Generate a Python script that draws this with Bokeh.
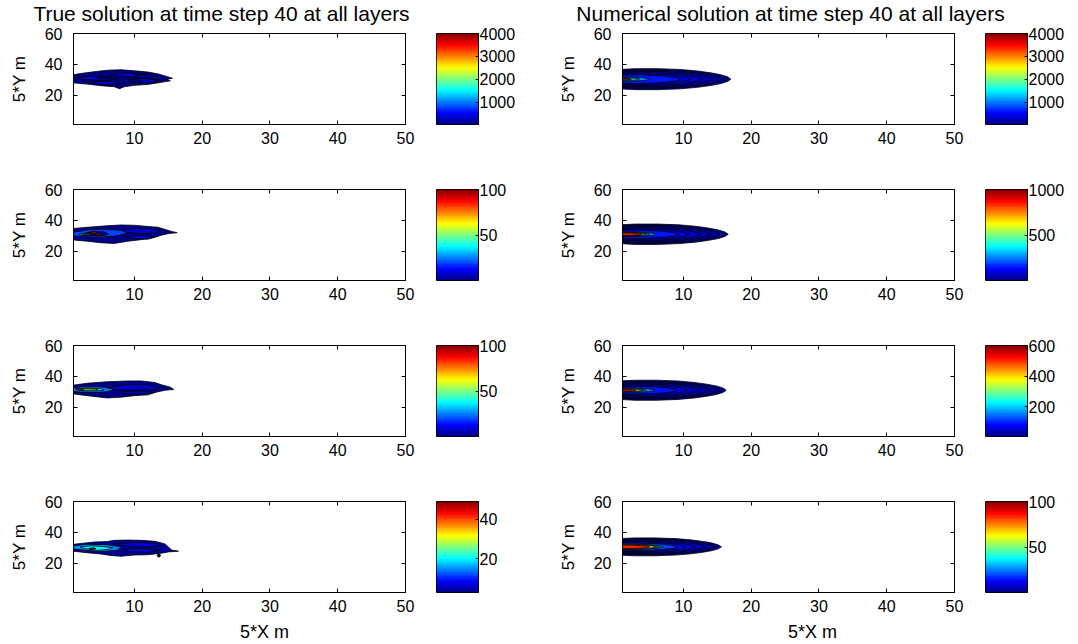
import numpy as np
from bokeh.plotting import figure
from bokeh.layouts import row, column
from bokeh.models import LinearAxis, FixedTicker, LinearColorMapper
from bokeh.core.properties import value
from bokeh.embed import file_html
from bokeh.resources import INLINE

FONT = "Liberation Sans"

TITLES = ["True solution at time step 40 at all layers",
          "Numerical solution at time step 40 at all layers"]
X_LABEL = "5*X m"
Y_LABEL = "5*Y m"
X_TICKS = [10, 20, 30, 40, 50]
Y_TICKS = [20, 40, 60]
X_LIMITS = (1, 50)
Y_LIMITS = (1, 60)

# colour limits and colorbar ticks, one entry per layer
TRUE_CLIM_LOW = [20, 1, 1, 3]
TRUE_CLIM_HIGH = [4000, 100, 100, 49]
TRUE_CBAR_TICKS = [[1000, 2000, 3000, 4000], [50, 100], [50, 100], [20, 40]]
NUM_CLIM_LOW = [20, 5, 5, 1]
NUM_CLIM_HIGH = [4000, 1000, 600, 100]
NUM_CBAR_TICKS = [[1000, 2000, 3000, 4000], [500, 1000], [200, 400, 600], [50, 100]]

# True solution: filled contour regions (value, xs, ys)
TRUE_L1 = [
    (40, [0.5, 2, 4, 6, 8, 10, 12, 13.5, 14.5, 15.6, 14.8, 15.3, 13.5, 12, 10, 8.5, 7.8, 7, 5, 3, 0.5],
         [33, 34, 35.2, 36.2, 36.5, 35.8, 35, 33.8, 32.5, 31, 30.3, 29.3, 28, 27, 26.4, 25.5, 24.2, 25.5, 26.2, 27.2, 28.2]),
    (350, [1.5, 3.5, 6, 7.5, 6, 4, 2], [31.2, 32.3, 32, 30.6, 29.6, 29.8, 30.4]),
    (350, [6.5, 8.5, 10.5, 12.5, 13.5, 11.5, 9, 7.5], [33.2, 34.4, 34.2, 33.3, 32, 31.6, 32.2, 32.5]),
    (350, [8, 10, 12, 14, 12.5, 10.5, 8.5], [30.3, 30.9, 30.5, 29.5, 28.4, 28.2, 29]),
    (350, [3, 5, 7, 8, 6, 4], [28.6, 29.1, 28.6, 27.4, 26.8, 27.4]),
    (600, [4.5, 5.8, 6.5, 5.2], [31.3, 31.6, 30.9, 30.6]),
    (600, [10, 11.2, 11.8, 10.5], [33.4, 33.6, 33, 32.7]),
    (600, [9, 10.5, 11, 9.6], [29.9, 30.1, 29.4, 29.2]),
]
TRUE_L2 = [
    (2, [0.5, 3, 6, 8, 10, 12, 13.5, 14.2, 15.5, 16.3, 15, 14, 13, 11, 9, 7, 5, 3, 0.5],
        [34.5, 35.5, 36.5, 37, 36.8, 36, 35.5, 34.5, 32.8, 32, 31.4, 30.4, 29, 27.5, 26.5, 25, 25.5, 26.5, 27.5]),
    (9, [7.5, 10, 12.5, 14, 13, 11, 9], [33.2, 34.8, 34.6, 33, 31.8, 31.5, 32]),
    (9, [8.5, 11, 13, 12, 9.5], [29.6, 30.2, 29.2, 27.8, 28.3]),
    (20, [0.5, 3, 5.5, 8, 9, 7.5, 5, 2.5, 0.5], [32, 33.8, 34.3, 33.5, 31.8, 30, 29, 29.3, 30]),
    (2, [2.3, 3.8, 5.5, 6.2, 5, 3.3, 2.3], [31.2, 32.8, 32.6, 31, 29.8, 30, 30.4]),
    (50, [1.8, 3.5, 3.6, 1.9], [31.1, 31.3, 30.7, 30.5]),
    (88, [3.2, 4.1, 4.6, 3.9], [32, 32.6, 32.1, 31.5]),
    (88, [4, 4.8, 5.3, 4.6], [30.8, 31.2, 30.6, 30.2]),
]
TRUE_L3 = [
    (2, [0.5, 3, 6, 9, 11, 13, 14, 15.3, 15.8, 14.5, 13, 12, 10, 8, 6, 4, 2, 0.5],
        [34, 35.5, 36.5, 37, 37, 36, 34.5, 33, 31.5, 31, 29.5, 28, 27.5, 26.5, 26, 27, 28, 29]),
    (9, [6, 9, 12, 14, 13, 10, 7], [33, 34.5, 34.5, 33, 31.5, 31, 31.5]),
    (9, [8, 11, 13, 11, 8.5], [30, 30.5, 29.5, 28.5, 28.8]),
    (25, [0.5, 3, 5.5, 7, 6, 4, 2, 0.5], [32.5, 33.5, 33, 31.5, 30, 29.5, 29.8, 30.5]),
    (40, [1.3, 3, 5, 5.5, 4, 2], [31.8, 32.5, 32, 31, 30.5, 30.8]),
    (57, [1.5, 2.5, 4.3, 4.6, 3, 1.8], [31.8, 32.1, 31.9, 31.2, 31, 31.2]),
    (75, [1.4, 2.2, 2.5, 1.6], [31.9, 32.2, 31.4, 31.3]),
]
TRUE_L4 = [
    (4, [0.5, 2.5, 4, 6, 7, 9, 11, 13, 14.5, 15, 15.5, 16.5, 15, 14, 12, 10, 8, 6.5, 5, 3, 0.5],
        [32, 33, 33.7, 34, 34.8, 35, 34.8, 34.2, 32.5, 30.5, 28.5, 27.8, 27.3, 26.5, 25.5, 25.3, 24.5, 25, 26, 26.8, 28]),
    (7, [7, 10, 13, 14, 12, 9], [32.5, 33.5, 33, 31.5, 30.5, 31]),
    (7, [8, 11, 13.5, 12, 9], [29, 29.5, 28.5, 27, 27.5]),
    (15, [0.5, 3, 6, 8, 7.5, 5, 2.5, 0.5], [31, 32.3, 32, 30.5, 28.5, 27.5, 28.5, 29.5]),
    (20, [2, 3.5, 5.5, 6.8, 6, 4.5, 2.5], [30.5, 31.3, 30.8, 30, 28.8, 28.3, 29.5]),
    (45, [3.3, 4, 4.3, 3.6], [29.7, 30, 29.3, 29.1]),
]
TRUE_L4_DOT_X = [13.6]
TRUE_L4_DOT_Y = [25.0]

# Numerical solution: nested contour levels (value, tip x, half height)
NUM_L1_VALUES = [40, 120, 200, 300, 420, 600, 1100, 1600, 3500]
NUM_L1_TIPS = [17, 15.8, 14.3, 12.7, 11, 9.5, 5, 3.5, 2.3]
NUM_L1_HALF = [6.8, 5.8, 5, 4.2, 3.4, 2.8, 1.3, 0.8, 0.45]
NUM_L2_VALUES = [10, 30, 50, 75, 105, 150, 280, 420, 620, 850]
NUM_L2_TIPS = [16.6, 15.5, 14, 12.5, 10.8, 9.3, 6, 5, 4.5, 3.8]
NUM_L2_HALF = [6.6, 5.7, 4.9, 4.1, 3.3, 2.6, 1.5, 1.1, 0.9, 0.8]
NUM_L3_VALUES = [6, 18, 30, 45, 63, 90, 170, 250, 370, 520]
NUM_L3_TIPS = [16.3, 15.2, 13.8, 12.3, 10.6, 9, 5.8, 4.5, 4, 3]
NUM_L3_HALF = [6.5, 5.6, 4.8, 4, 3.2, 2.5, 1.4, 1.0, 0.8, 0.6]
NUM_L4_VALUES = [1.5, 4, 7, 10, 14, 20, 35, 50, 65, 85]
NUM_L4_TIPS = [15.6, 14.5, 13.2, 11.8, 10.3, 9, 7, 6.5, 6, 5]
NUM_L4_HALF = [5.8, 5, 4.3, 3.6, 3, 2.4, 1.6, 1.4, 1.3, 1.1]
NUM_CENTERS = [30.4, 31.0, 31.0, 30.6]

# plume outline template (fraction along length, relative half height)
SHAPE_F = [0, 0.15, 0.35, 0.55, 0.7, 0.82, 0.91, 0.97, 1.0]
SHAPE_W = [0.92, 1.0, 1.0, 0.92, 0.78, 0.6, 0.42, 0.22, 0.0]

PAGE_W = 1078
TOP_STRIP_H = 26
BOTTOM_STRIP_H = 24


def jet(t):
    t = min(max(t, 0.0), 1.0)
    r = min(max(1.5 - abs(4 * t - 3), 0), 1)
    g = min(max(1.5 - abs(4 * t - 2), 0), 1)
    b = min(max(1.5 - abs(4 * t - 1), 0), 1)
    return "#%02x%02x%02x" % (int(r * 255), int(g * 255), int(b * 255))


JET64 = [jet((i + 0.5) / 64) for i in range(64)]


def style_text_axis(ax):
    ax.major_label_text_font = FONT
    ax.major_label_text_font_size = "16px"
    ax.major_label_text_color = "black"
    ax.axis_label_text_font = FONT
    ax.axis_label_text_font_size = "17px"
    ax.axis_label_text_font_style = "normal"
    ax.axis_label_text_color = "black"
    ax.axis_line_color = "black"
    ax.major_tick_line_color = "black"
    ax.minor_tick_line_color = None
    ax.major_tick_in = 4
    ax.major_tick_out = 0


def strip_fig(height, texts, centers, baseline_from_bottom, size):
    p = figure(width=PAGE_W, height=height, x_range=(0, PAGE_W), y_range=(0, height),
               output_backend="svg", toolbar_location=None, min_border=0,
               x_axis_location=None, y_axis_location=None)
    p.grid.visible = False
    p.outline_line_color = None
    p.border_fill_color = "white"
    p.background_fill_color = "white"
    p.text(x=centers, y=[baseline_from_bottom] * len(texts), text=texts,
           text_font=value(FONT), text_font_size=size, text_color="black",
           text_align="center", text_baseline="alphabetic")
    return p


def main_fig(width, height, bl, br, bt, bb):
    p = figure(width=width, height=height, x_range=X_LIMITS, y_range=Y_LIMITS,
               output_backend="svg", toolbar_location=None,
               min_border_left=bl, min_border_right=br,
               min_border_top=bt, min_border_bottom=bb)
    p.grid.visible = False
    p.outline_line_color = "black"
    p.background_fill_color = "white"
    p.border_fill_color = "white"
    p.xaxis.ticker = FixedTicker(ticks=X_TICKS)
    p.yaxis.ticker = FixedTicker(ticks=Y_TICKS)
    style_text_axis(p.xaxis[0])
    style_text_axis(p.yaxis[0])
    p.yaxis.axis_label = Y_LABEL
    p.yaxis.major_label_standoff = 11
    p.yaxis.axis_label_standoff = 13
    p.xaxis.major_label_standoff = 7
    for loc, ticks in (("above", X_TICKS), ("right", Y_TICKS)):
        ax = LinearAxis(ticker=FixedTicker(ticks=ticks))
        style_text_axis(ax)
        ax.major_label_text_font_size = "0px"
        ax.major_label_standoff = 0
        p.add_layout(ax, loc)
    return p


def cbar_fig(width, height, br, bt, bb, lo, hi, ticks):
    p = figure(width=width, height=height, x_range=(0, 1), y_range=(lo, hi),
               y_axis_location="right", x_axis_location=None,
               output_backend="svg", toolbar_location=None,
               min_border_left=0, min_border_right=br,
               min_border_top=bt, min_border_bottom=bb)
    p.grid.visible = False
    p.outline_line_color = "black"
    p.border_fill_color = "white"
    mapper = LinearColorMapper(palette=JET64, low=lo, high=hi)
    p.image(image=[np.linspace(lo, hi, 256).reshape(256, 1)], x=0, y=lo,
            dw=1, dh=hi - lo, color_mapper=mapper)
    p.yaxis.ticker = FixedTicker(ticks=ticks)
    style_text_axis(p.yaxis[0])
    p.yaxis.major_tick_in = 3
    p.yaxis.major_tick_out = 0
    p.yaxis.major_label_standoff = 1
    return p


def draw_true(p, regions, lo, hi):
    xs = [r[1] for r in regions]
    ys = [r[2] for r in regions]
    cols = [jet((r[0] - lo) / (hi - lo)) for r in regions]
    p.patches(xs, ys, fill_color=cols, line_color="black", line_width=0.8)


def draw_num(p, values, tips, halfs, center, lo, hi):
    xs, ys, cols = [], [], []
    for v, tip, h in zip(values, tips, halfs):
        xx = [0.5 + f * (tip - 0.5) for f in SHAPE_F]
        top = [center + h * w for w in SHAPE_W]
        bot = [center - h * w for w in SHAPE_W]
        xs.append(xx + xx[::-1])
        ys.append(top + bot[::-1])
        cols.append(jet((v - lo) / (hi - lo)))
    p.patches(xs, ys, fill_color=cols, line_color="black", line_width=0.8)


TRUE_REGIONS = [TRUE_L1, TRUE_L2, TRUE_L3, TRUE_L4]
NUM_SETS = [(NUM_L1_VALUES, NUM_L1_TIPS, NUM_L1_HALF),
            (NUM_L2_VALUES, NUM_L2_TIPS, NUM_L2_HALF),
            (NUM_L3_VALUES, NUM_L3_TIPS, NUM_L3_HALF),
            (NUM_L4_VALUES, NUM_L4_TIPS, NUM_L4_HALF)]

items = [strip_fig(TOP_STRIP_H, TITLES, [221, 790], 13, "21px")]
for i in range(4):
    first, last = i == 0, i == 3
    bt = 7 if first else 33
    bb = 28 if last else 32
    h = bt + 91 + bb
    pl = main_fig(436, h, 73, 31, bt, bb)
    draw_true(pl, TRUE_REGIONS[i], TRUE_CLIM_LOW[i], TRUE_CLIM_HIGH[i])
    if last:
        pl.scatter(TRUE_L4_DOT_X, TRUE_L4_DOT_Y, size=3, color="black")
    cl = cbar_fig(114, h, 72, bt, bb, TRUE_CLIM_LOW[i], TRUE_CLIM_HIGH[i], TRUE_CBAR_TICKS[i])
    pr = main_fig(435, h, 72, 31, bt, bb)
    vals, tips, halfs = NUM_SETS[i]
    draw_num(pr, vals, tips, halfs, NUM_CENTERS[i], NUM_CLIM_LOW[i], NUM_CLIM_HIGH[i])
    cr = cbar_fig(93, h, 51, bt, bb, NUM_CLIM_LOW[i], NUM_CLIM_HIGH[i], NUM_CBAR_TICKS[i])
    items.append(row(pl, cl, pr, cr, spacing=0))
items.append(strip_fig(BOTTOM_STRIP_H, [X_LABEL, X_LABEL], [264, 812], 13, "18px"))

layout = column(*items, spacing=0)
open("out.html", "w").write(file_html(layout, INLINE))
